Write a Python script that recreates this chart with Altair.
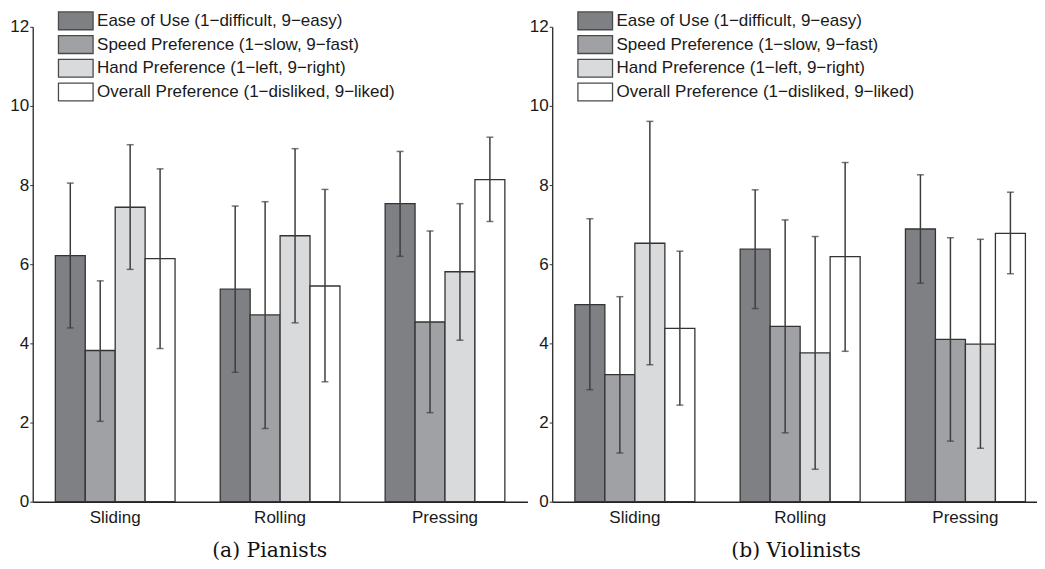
import altair as alt
import pandas as pd

techniques = ["Sliding", "Rolling", "Pressing"]
measures = [
    "Ease of Use (1\u2212difficult, 9\u2212easy)",
    "Speed Preference (1\u2212slow, 9\u2212fast)",
    "Hand Preference (1\u2212left, 9\u2212right)",
    "Overall Preference (1\u2212disliked, 9\u2212liked)",
]
colors = ["#7f8084", "#a0a1a5", "#d9dadc", "#ffffff"]

# Pianists: per measure, values for Sliding, Rolling, Pressing
pianist_mean = {
    measures[0]: [6.22, 5.37, 7.53],
    measures[1]: [3.82, 4.72, 4.54],
    measures[2]: [7.44, 6.72, 5.81],
    measures[3]: [6.14, 5.45, 8.14],
}
pianist_hi = {
    measures[0]: [8.05, 7.47, 8.85],
    measures[1]: [5.58, 7.58, 6.84],
    measures[2]: [9.02, 8.92, 7.53],
    measures[3]: [8.41, 7.89, 9.21],
}
pianist_lo = {
    measures[0]: [4.39, 3.27, 6.20],
    measures[1]: [2.03, 1.85, 2.25],
    measures[2]: [5.87, 4.52, 4.08],
    measures[3]: [3.87, 3.03, 7.08],
}

# Violinists
violinist_mean = {
    measures[0]: [4.98, 6.38, 6.89],
    measures[1]: [3.21, 4.43, 4.10],
    measures[2]: [6.53, 3.76, 3.98],
    measures[3]: [4.38, 6.19, 6.78],
}
violinist_hi = {
    measures[0]: [7.15, 7.88, 8.26],
    measures[1]: [5.18, 7.12, 6.67],
    measures[2]: [9.61, 6.70, 6.63],
    measures[3]: [6.33, 8.57, 7.82],
}
violinist_lo = {
    measures[0]: [2.83, 4.88, 5.52],
    measures[1]: [1.23, 1.74, 1.53],
    measures[2]: [3.46, 0.82, 1.35],
    measures[3]: [2.44, 3.80, 5.76],
}


def build_df(mean, hi, lo):
    rows = []
    for m in measures:
        for i, t in enumerate(techniques):
            rows.append({"technique": t, "measure": m,
                         "mean": mean[m][i], "hi": hi[m][i], "lo": lo[m][i]})
    return pd.DataFrame(rows)


SANS = "Liberation Sans"
FS = 17.2


def panel(df, title, width, pad_outer, align, title_x):
    xaxis = alt.Axis(
        title=title, labelAngle=0, ticks=False, labelPadding=7,
        titlePadding=15, titleX=title_x, titleFont="DejaVu Serif",
        titleFontSize=20.5, titleFontWeight="normal", titleColor="#111",
        labelFont=SANS, labelFontSize=FS, labelColor="#1a1a1a",
        domainColor="#222", domainWidth=1.5,
    )
    x = alt.X("technique:N", sort=techniques,
              scale=alt.Scale(domain=techniques, paddingInner=0.274,
                              paddingOuter=pad_outer, align=align),
              axis=xaxis)
    xo = alt.XOffset("measure:N", sort=measures,
                     scale=alt.Scale(domain=measures, paddingInner=0, paddingOuter=0))
    yaxis = alt.Axis(values=[0, 2, 4, 6, 8, 10, 12], grid=False, title=None,
                     tickSize=3, labelPadding=1, tickColor="#333",
                     labelFont=SANS, labelFontSize=FS, labelColor="#1a1a1a",
                     domainColor="#333", domainWidth=1.4)
    yscale = alt.Scale(domain=[0, 12], nice=False)

    legend = alt.Legend(
        orient="none", legendX=25.5, legendY=-16, title=None,
        symbolType="M-1.944,-1H1.944V1H-1.944Z", symbolSize=324,
        symbolStrokeColor="#4a4a4a", symbolStrokeWidth=1.3, symbolOpacity=1,
        symbolOffset=8, labelOffset=11.5, labelFont=SANS, labelFontSize=FS,
        labelColor="#1a1a1a", labelLimit=600, rowPadding=0, padding=0,
    )

    base = alt.Chart(df)
    bars = base.mark_bar(stroke="#333333", strokeWidth=1.3, opacity=1).encode(
        x=x, xOffset=xo,
        y=alt.Y("mean:Q", scale=yscale, axis=yaxis),
        color=alt.Color("measure:N", sort=measures,
                        scale=alt.Scale(domain=measures, range=colors),
                        legend=legend),
    )
    rules = base.mark_rule(color="#3c3c3c", strokeWidth=1.5).encode(
        x=x, xOffset=xo,
        y=alt.Y("lo:Q", scale=yscale, axis=yaxis), y2="hi:Q",
    )
    cap_hi = base.mark_tick(color="#3c3c3c", size=7, thickness=1.5).encode(
        x=x, xOffset=xo, y=alt.Y("hi:Q", scale=yscale, axis=yaxis),
    )
    cap_lo = base.mark_tick(color="#3c3c3c", size=7, thickness=1.5).encode(
        x=x, xOffset=xo, y=alt.Y("lo:Q", scale=yscale, axis=yaxis),
    )
    return alt.layer(bars, rules, cap_hi, cap_lo).properties(width=width, height=480)


left = panel(build_df(pianist_mean, pianist_hi, pianist_lo),
             "(a) Pianists", 500, 0.137, 0.5, 239)
right = panel(build_df(violinist_mean, violinist_hi, violinist_lo),
              "(b) Violinists", 490, 0.1037, 0.662, 246)

chart = alt.hconcat(left, right, spacing=1).resolve_scale(
    x="independent", y="independent", color="independent", xOffset="independent"
).resolve_legend(color="independent").configure_view(stroke=None).properties(
    padding={"left": 1, "top": 0, "right": 0, "bottom": 0}
)

chart.save("out.html", embed_options={"renderer": "svg", "actions": False})
